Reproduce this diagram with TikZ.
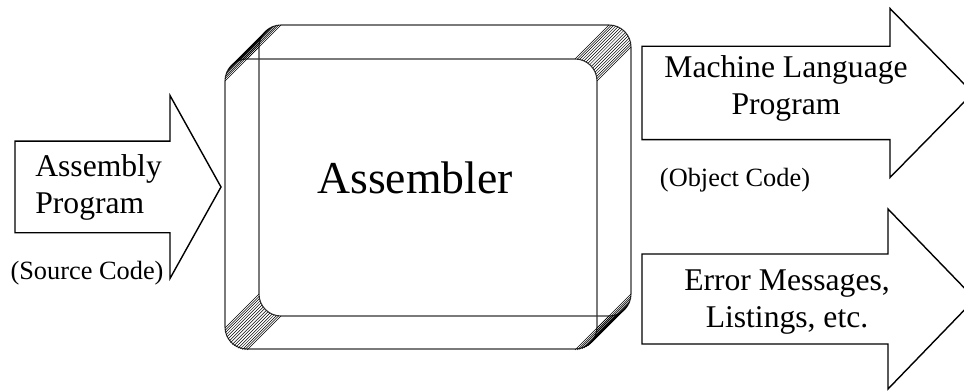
\documentclass[tikz,border=0pt]{standalone}
\usepackage{fontspec}
\setmainfont{Liberation Serif}
\usetikzlibrary{calc}
\tikzset{
  outline/.style = {color=#1, line width=0.8pt, line join=miter},
  frame/.style = {color=#1, line width=0.6pt, rounded corners=0.44cm},
  hatch/.style = {color=#1, line width=0.3pt},
  arrowtext/.style = {font=\fontsize{18}{21}\selectfont, inner sep=0pt},
  notetext/.style = {font=\fontsize{15}{17}\selectfont, inner sep=0pt},
  bigtext/.style = {font=\fontsize{26}{28}\selectfont, inner sep=0pt}
}
\newcommand{\fatarrow}[7][]{%
  % #1: optional style
  % #2: shaft left x
  % #3: centre line y
  % #4: shaft half height
  % #5: head base x
  % #6: head half height
  % #7: tip x
  \draw[outline={black}, #1] (#2,#3-#4) -- (#5,#3-#4) -- (#5,#3-#6) -- (#7,#3)
    -- (#5,#3+#6) -- (#5,#3+#4) -- (#2,#3+#4) -- cycle;
}

\begin{document}
\begin{tikzpicture}[x=0.02cm, y=-0.02cm]

    % Canvas
    \useasboundingbox (0,0) rectangle (964,391);
    \clip (0,0) rectangle (964,391);

    % Arrows
    \fatarrow{15}{187}{45.8}{170}{91.5}{221}
    \fatarrow{642}{93}{46.7}{890}{84.5}{973}
    \fatarrow{642}{299}{45}{888}{90}{975}

    % Body (two offset faces)
    \draw[frame={black!80}] (259,25) rectangle (631,316);
    \draw[frame={black!80}] (225,59) rectangle (597,349);

    % Corner bevels
    \foreach \cx/\cy/\sx/\sy in {609/47/1/-1, 281/47/-1/-1, 281/294/-1/1, 609/294/1/1}{
      \foreach \t in {0,6,...,90}{
        \draw[hatch={black}] ({\cx+\sx*22*cos(\t)},{\cy+\sy*22*sin(\t)}) -- ++(-34,34);
      }
    }

    % Labels
    \node[bigtext] (asm) at (415,178) {Assembler};
    \node[arrowtext, align=left, anchor=west] (src) at (35,187) {Assembly\\Program};
    \node[notetext] (srcnote) at (87,273) {(Source Code)};
    \node[arrowtext, align=center] (obj) at (786,88) {Machine Language\\Program};
    \node[notetext] (objnote) at (735,180) {(Object Code)};
    \node[arrowtext, align=center] (err) at (787,302) {Error Messages,\\Listings, etc.};

\end{tikzpicture}
\end{document}
